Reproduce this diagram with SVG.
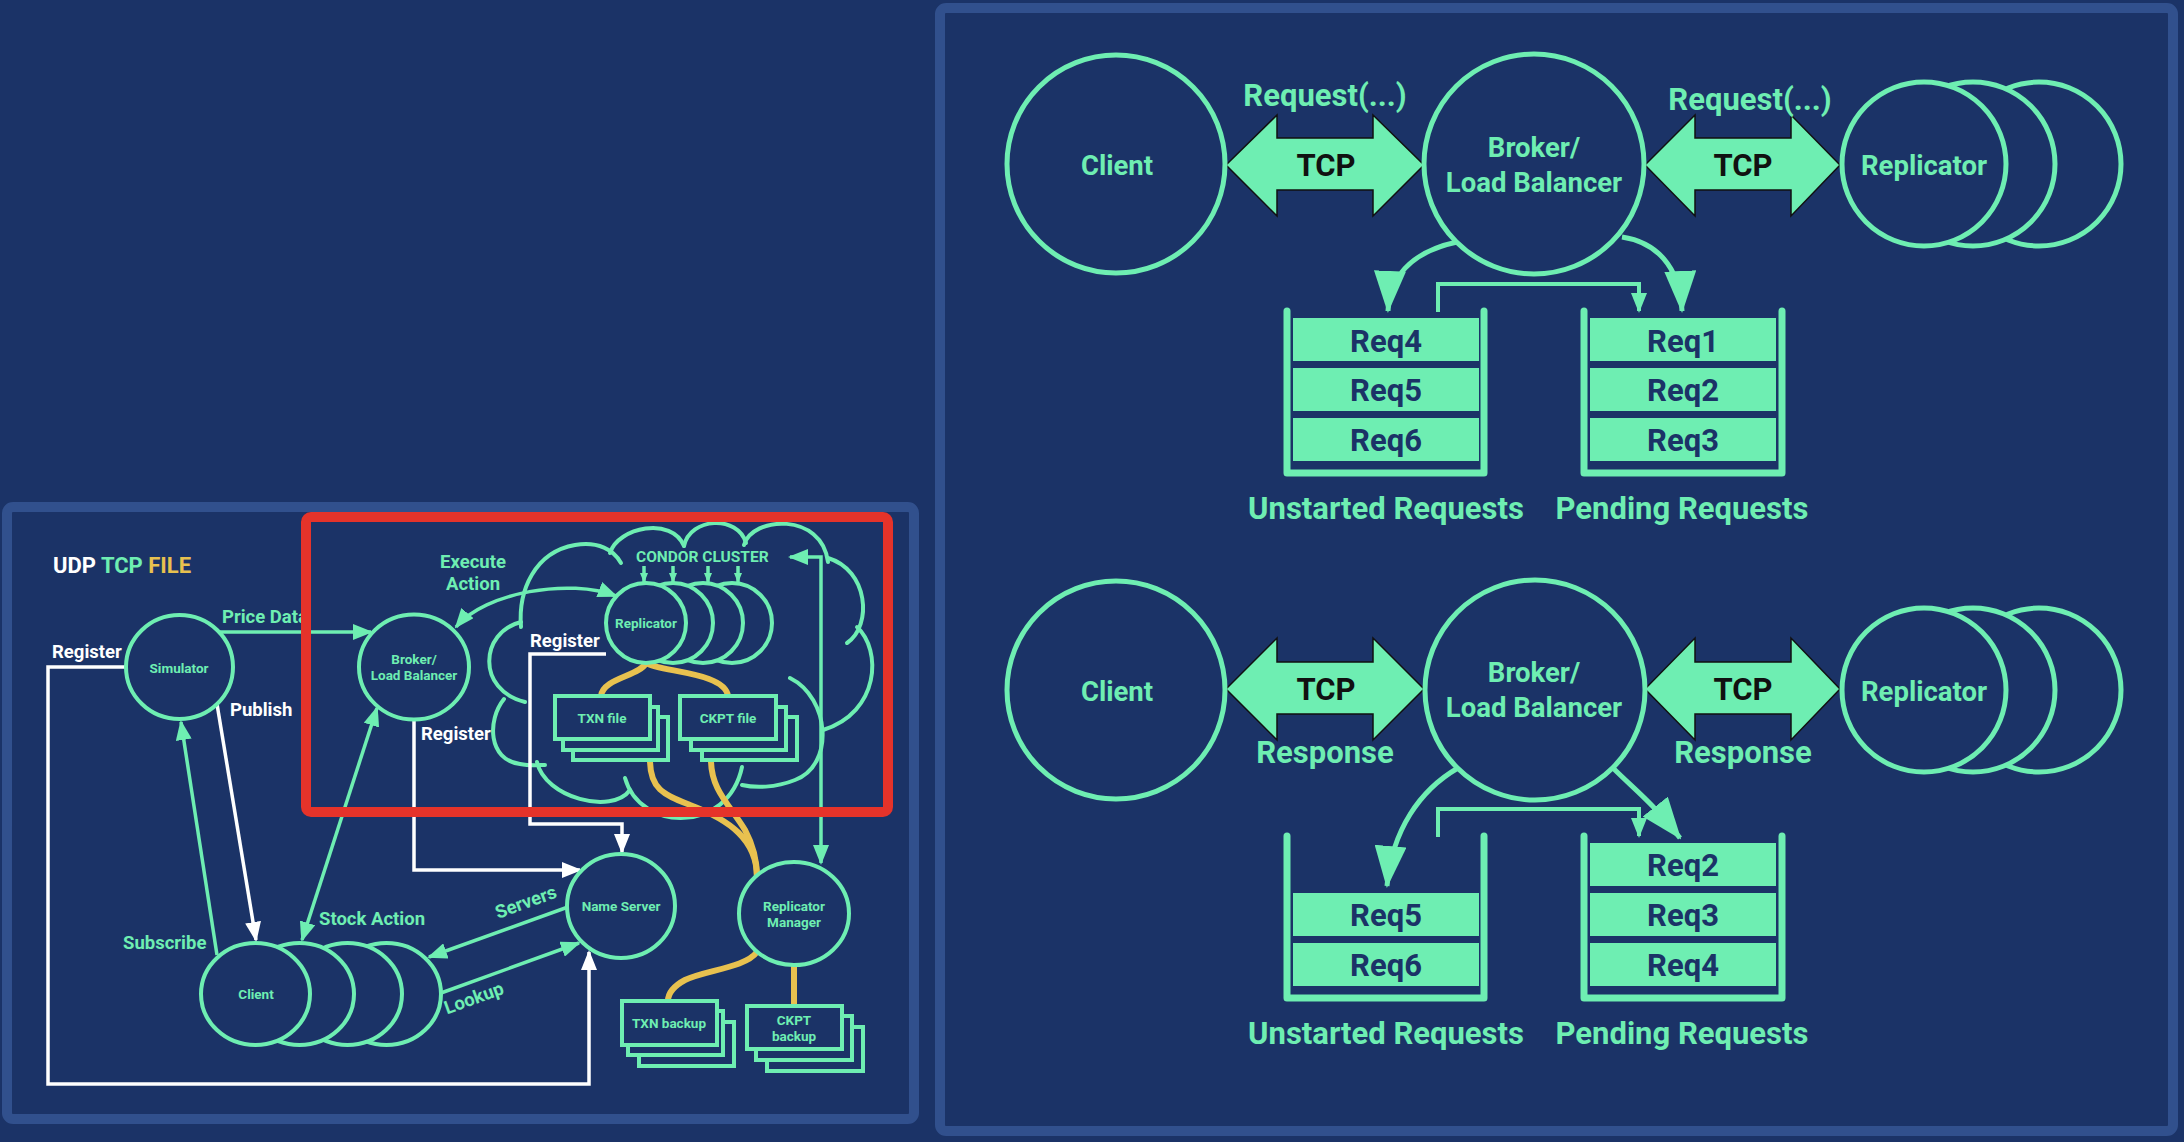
<svg xmlns="http://www.w3.org/2000/svg" width="2184" height="1142" viewBox="0 0 2184 1142">
<defs>
<style>
.bg{fill:#1b3367}
.panel{fill:#1b3367;stroke:#31508d;stroke-width:10}
.nd{fill:#1b3367;stroke:#6eeeb2;stroke-width:4}
.ndR{fill:#1b3367;stroke:#6eeeb2;stroke-width:5}
.box{fill:#1b3367;stroke:#6eeeb2;stroke-width:4}
.cloud{fill:none;stroke:#6eeeb2;stroke-width:4;stroke-linecap:round}
.g{fill:none;stroke:#6eeeb2;stroke-width:3.5}
.gR{fill:none;stroke:#6eeeb2;stroke-width:5}
.gE{fill:none;stroke:#6eeeb2;stroke-width:4}
.w{fill:none;stroke:#ffffff;stroke-width:3.5}
.y{fill:none;stroke:#e8c14f;stroke-width:6;stroke-linecap:round}
.tcp{fill:#6eeeb2;stroke:#111;stroke-width:1.5;stroke-linejoin:miter}
.cup{fill:none;stroke:#6eeeb2;stroke-width:7;stroke-linecap:round;stroke-linejoin:round}
.req{fill:#6eeeb2}
.t{font-family:Roboto,'Liberation Sans',sans-serif;font-weight:700}
.tg{fill:#6eeeb2}
.tw{fill:#ffffff}
.tn{fill:#1b3367}
.tk{fill:#111111}
.c{text-anchor:middle}
.s13{font-size:13.5px}
.s18{font-size:18.5px}
.lr{font-size:31px}
.nr{font-size:27.5px}
</style>
<marker id="mg" viewBox="0 0 20 16" refX="18" refY="8" markerWidth="20" markerHeight="16" markerUnits="userSpaceOnUse" orient="auto-start-reverse"><path d="M0,0L20,8L0,16z" fill="#6eeeb2"/></marker>
<marker id="mw" viewBox="0 0 20 16" refX="18" refY="8" markerWidth="20" markerHeight="16" markerUnits="userSpaceOnUse" orient="auto-start-reverse"><path d="M0,0L20,8L0,16z" fill="#ffffff"/></marker>
<marker id="ms" viewBox="0 0 10 8" refX="9" refY="4" markerWidth="10" markerHeight="8" markerUnits="userSpaceOnUse" orient="auto"><path d="M0,0L10,4L0,8z" fill="#6eeeb2"/></marker>
<marker id="mb" viewBox="0 0 42 32" refX="40" refY="16" markerWidth="42" markerHeight="32" markerUnits="userSpaceOnUse" orient="auto"><path d="M0,0L42,16L0,32z" fill="#6eeeb2"/></marker>
</defs>

<rect class="bg" x="0" y="0" width="2184" height="1142"/>
<rect class="panel" x="7" y="507" width="907" height="612" rx="6"/>
<rect class="panel" x="940" y="8" width="1233" height="1123" rx="6"/>

<!-- LEFT PANEL -->
<text class="t" x="53" y="573" font-size="22"><tspan fill="#ffffff">UDP </tspan><tspan fill="#6eeeb2">TCP </tspan><tspan fill="#e8c14f">FILE</tspan></text>

<g id="condor-cluster-cloud">
<path class="cloud" d="M521,627 C518,590 535,552 575,545 C598,541 614,550 621,563"/>
<path class="cloud" d="M610,553 C618,527 672,516 684,546"/>
<path class="cloud" d="M684,546 C690,517 738,515 746,543"/>
<path class="cloud" d="M744,545 C752,516 822,512 828,562"/>
<path class="cloud" d="M828,558 C868,570 873,625 847,643"/>
<path class="cloud" d="M857,627 C882,650 880,712 823,730"/>
<path class="cloud" d="M790,678 C830,698 835,765 795,780 C775,788 755,788 742,785"/>
<path class="cloud" d="M625,778 C640,832 728,834 742,767"/>
<path class="cloud" d="M537,762 C545,798 612,815 630,790"/>
<path class="cloud" d="M504,699 C487,720 488,760 520,764 C530,766 540,765 545,765"/>
<path class="cloud" d="M521,622 C480,632 476,690 525,702"/>
<text class="t tg" x="636" y="562" font-size="15.5">CONDOR CLUSTER</text>
</g>

<g id="connectors-left">
<path class="g" d="M219,632 H371" marker-end="url(#mg)"/>
<path class="w" d="M127,667 H48 V1084 H589 V952" marker-end="url(#mw)"/>
<path class="g" d="M217,955 L181,722" marker-end="url(#mg)"/>
<path class="w" d="M217,704 L256,940" marker-end="url(#mw)"/>
<path class="g" d="M377,708 L302,940" marker-start="url(#mg)" marker-end="url(#mg)"/>
<path class="w" d="M414,721 V870 H580" marker-end="url(#mw)"/>
<path class="w" d="M606,654 H530 V824 H622 V852" marker-end="url(#mw)"/>
<path class="g" d="M456,627 C485,592 570,578 616,596" marker-start="url(#mg)" marker-end="url(#mg)"/>
<path class="g" d="M568,907 L429,957" marker-end="url(#mg)"/>
<path class="g" d="M441,993 L579,943" marker-end="url(#mg)"/>
<path class="g" d="M644,566 V582" marker-end="url(#ms)"/>
<path class="g" d="M673,566 V582" marker-end="url(#ms)"/>
<path class="g" d="M708,566 V582" marker-end="url(#ms)"/>
<path class="g" d="M738,566 V582" marker-end="url(#ms)"/>
<path class="g" d="M790,557 H821 V863" marker-start="url(#mg)" marker-end="url(#mg)"/>
<path class="y" d="M646,663 C640,676 603,678 601,696"/>
<path class="y" d="M646,663 C660,672 725,672 728,696"/>
<path class="y" d="M650,760 C650,790 665,795 690,805 C730,820 757,840 757,877"/>
<path class="y" d="M711,760 C711,790 730,805 745,830 C753,845 757,860 757,877"/>
<path class="y" d="M757,952 C745,968 705,970 685,980 C672,987 668,995 668,1001"/>
<path class="y" d="M794,965 V1006"/>
<text class="t tg s18" x="222" y="623">Price Data</text>
<text class="t tw s18" x="52" y="658">Register</text>
<text class="t tw s18" x="230" y="716">Publish</text>
<text class="t tg s18" x="123" y="949">Subscribe</text>
<text class="t tg s18" x="319" y="925">Stock Action</text>
<text class="t tw s18" x="421" y="740">Register</text>
<text class="t tw s18" x="530" y="647">Register</text>
<text class="t tg s18 c" x="473" y="568">Execute</text>
<text class="t tg s18 c" x="473" y="590">Action</text>
<text class="t tg s18 c" x="528" y="908" transform="rotate(-20 528 908)">Servers</text>
<text class="t tg s18 c" x="476" y="1004" transform="rotate(-20 476 1004)">Lookup</text>
</g>

<g id="simulator">
<ellipse class="nd" cx="179.5" cy="667" rx="53.5" ry="52"/>
<text class="t tg s13 c" x="179" y="673">Simulator</text>
</g>
<g id="broker-left">
<ellipse class="nd" cx="414" cy="667" rx="55" ry="52.5"/>
<text class="t tg s13 c" x="414" y="664">Broker/</text>
<text class="t tg s13 c" x="414" y="680">Load Balancer</text>
</g>
<g id="replicator-left">
<ellipse class="nd" cx="732" cy="623" rx="40" ry="40"/>
<ellipse class="nd" cx="703" cy="623" rx="40" ry="40"/>
<ellipse class="nd" cx="673" cy="623" rx="40" ry="40"/>
<ellipse class="nd" cx="646" cy="623" rx="40" ry="40"/>
<text class="t tg s13 c" x="646" y="628">Replicator</text>
</g>
<g id="txn-file">
<rect class="box" x="573" y="717" width="95" height="43"/>
<rect class="box" x="563" y="707" width="95" height="43"/>
<rect class="box" x="555" y="696" width="95" height="43"/>
<text class="t tg s13 c" x="602" y="723">TXN file</text>
</g>
<g id="ckpt-file">
<rect class="box" x="702" y="717" width="95" height="43"/>
<rect class="box" x="691" y="707" width="95" height="43"/>
<rect class="box" x="680" y="696" width="96" height="43"/>
<text class="t tg s13 c" x="728" y="723">CKPT file</text>
</g>
<g id="name-server">
<ellipse class="nd" cx="621" cy="906" rx="54" ry="52"/>
<text class="t tg s13 c" x="621" y="911">Name Server</text>
</g>
<g id="replicator-manager">
<ellipse class="nd" cx="794" cy="913.5" rx="55" ry="51.5"/>
<text class="t tg s13 c" x="794" y="911">Replicator</text>
<text class="t tg s13 c" x="794" y="927">Manager</text>
</g>
<g id="txn-backup">
<rect class="box" x="639" y="1022" width="95" height="44"/>
<rect class="box" x="628" y="1011" width="95" height="44"/>
<rect class="box" x="622" y="1001" width="95" height="44"/>
<text class="t tg s13 c" x="669" y="1028">TXN backup</text>
</g>
<g id="ckpt-backup">
<rect class="box" x="767" y="1027" width="96" height="44"/>
<rect class="box" x="756" y="1016" width="96" height="44"/>
<rect class="box" x="747" y="1006" width="95" height="43"/>
<text class="t tg s13 c" x="794" y="1025">CKPT</text>
<text class="t tg s13 c" x="794" y="1041">backup</text>
</g>
<g id="client-left">
<ellipse class="nd" cx="386.5" cy="994" rx="54.5" ry="51"/>
<ellipse class="nd" cx="347.5" cy="994" rx="54.5" ry="51"/>
<ellipse class="nd" cx="299.5" cy="994" rx="54.5" ry="51"/>
<ellipse class="nd" cx="255.5" cy="994" rx="54.5" ry="51"/>
<text class="t tg s13 c" x="256" y="999">Client</text>
</g>

<g id="highlight">
<rect x="306" y="517" width="582" height="295" rx="5" fill="none" stroke="#e5332a" stroke-width="10"/>
</g>

<!-- RIGHT PANEL -->
<g id="connectors-right">
<polygon class="tcp" points="1226,165 1277,115 1277,138 1373,138 1373,115 1424,165 1373,216 1373,190 1277,190 1277,216"/>
<polygon class="tcp" points="1645,165 1695,115 1695,138 1791,138 1791,115 1840,165 1791,216 1791,190 1695,190 1695,216"/>
<polygon class="tcp" points="1226,689 1277,638 1277,662 1373,662 1373,638 1424,689 1373,740 1373,714 1277,714 1277,740"/>
<polygon class="tcp" points="1645,689 1695,638 1695,662 1791,662 1791,638 1840,689 1791,740 1791,714 1695,714 1695,740"/>
<text class="t tk c" x="1326" y="176" font-size="31">TCP</text>
<text class="t tk c" x="1743" y="176" font-size="31">TCP</text>
<text class="t tk c" x="1326" y="700" font-size="31">TCP</text>
<text class="t tk c" x="1743" y="700" font-size="31">TCP</text>
<text class="t tg lr c" x="1325" y="106">Request(...)</text>
<text class="t tg lr c" x="1750" y="110">Request(...)</text>
<text class="t tg lr c" x="1325" y="763">Response</text>
<text class="t tg lr c" x="1743" y="763">Response</text>
<path class="gR" d="M1457,242 C1420,250 1390,270 1388,311" marker-end="url(#mb)"/>
<path class="gR" d="M1622,237 C1655,242 1680,265 1682,311" marker-end="url(#mb)"/>
<path class="gR" d="M1458,768 C1420,790 1392,830 1387,886" marker-end="url(#mb)"/>
<path class="gR" d="M1613,768 C1635,790 1650,800 1680,838" marker-end="url(#mb)"/>
<path class="gE" d="M1438,312 V284 H1639 V311" marker-end="url(#mg)"/>
<path class="gE" d="M1438,837 V809 H1639 V836" marker-end="url(#mg)"/>
</g>

<g id="client-top">
<circle class="ndR" cx="1116" cy="164" r="109"/>
<text class="t tg nr c" x="1117" y="175">Client</text>
</g>
<g id="broker-top">
<circle class="ndR" cx="1534" cy="164" r="110"/>
<text class="t tg nr c" x="1534" y="157">Broker/</text>
<text class="t tg nr c" x="1534" y="192">Load Balancer</text>
</g>
<g id="replicator-top">
<circle class="ndR" cx="2039" cy="164" r="82"/>
<circle class="ndR" cx="1973" cy="164" r="82"/>
<circle class="ndR" cx="1924" cy="164" r="82"/>
<text class="t tg nr c" x="1924" y="175">Replicator</text>
</g>
<g id="unstarted-top">
<path class="cup" d="M1287,311 V473 H1484 V311"/>
<rect class="req" x="1293" y="318" width="186" height="43"/>
<rect class="req" x="1293" y="368" width="186" height="43"/>
<rect class="req" x="1293" y="418" width="186" height="43"/>
<text class="t tn lr c" x="1386" y="352">Req4</text>
<text class="t tn lr c" x="1386" y="401">Req5</text>
<text class="t tn lr c" x="1386" y="451">Req6</text>
<text class="t tg lr c" x="1386" y="519">Unstarted Requests</text>
</g>
<g id="pending-top">
<path class="cup" d="M1584,311 V473 H1782 V311"/>
<rect class="req" x="1590" y="318" width="186" height="43"/>
<rect class="req" x="1590" y="368" width="186" height="43"/>
<rect class="req" x="1590" y="418" width="186" height="43"/>
<text class="t tn lr c" x="1683" y="352">Req1</text>
<text class="t tn lr c" x="1683" y="401">Req2</text>
<text class="t tn lr c" x="1683" y="451">Req3</text>
<text class="t tg lr c" x="1682" y="519">Pending Requests</text>
</g>

<g id="client-bottom">
<circle class="ndR" cx="1116" cy="690" r="109"/>
<text class="t tg nr c" x="1117" y="701">Client</text>
</g>
<g id="broker-bottom">
<circle class="ndR" cx="1535" cy="690" r="110"/>
<text class="t tg nr c" x="1534" y="682">Broker/</text>
<text class="t tg nr c" x="1534" y="717">Load Balancer</text>
</g>
<g id="replicator-bottom">
<circle class="ndR" cx="2039" cy="690" r="82"/>
<circle class="ndR" cx="1973" cy="690" r="82"/>
<circle class="ndR" cx="1924" cy="690" r="82"/>
<text class="t tg nr c" x="1924" y="701">Replicator</text>
</g>
<g id="unstarted-bottom">
<path class="cup" d="M1287,836 V998 H1484 V836"/>
<rect class="req" x="1293" y="893" width="186" height="43"/>
<rect class="req" x="1293" y="943" width="186" height="43"/>
<text class="t tn lr c" x="1386" y="926">Req5</text>
<text class="t tn lr c" x="1386" y="976">Req6</text>
<text class="t tg lr c" x="1386" y="1044">Unstarted Requests</text>
</g>
<g id="pending-bottom">
<path class="cup" d="M1584,836 V998 H1782 V836"/>
<rect class="req" x="1590" y="843" width="186" height="43"/>
<rect class="req" x="1590" y="893" width="186" height="43"/>
<rect class="req" x="1590" y="943" width="186" height="43"/>
<text class="t tn lr c" x="1683" y="876">Req2</text>
<text class="t tn lr c" x="1683" y="926">Req3</text>
<text class="t tn lr c" x="1683" y="976">Req4</text>
<text class="t tg lr c" x="1682" y="1044">Pending Requests</text>
</g>
</svg>
